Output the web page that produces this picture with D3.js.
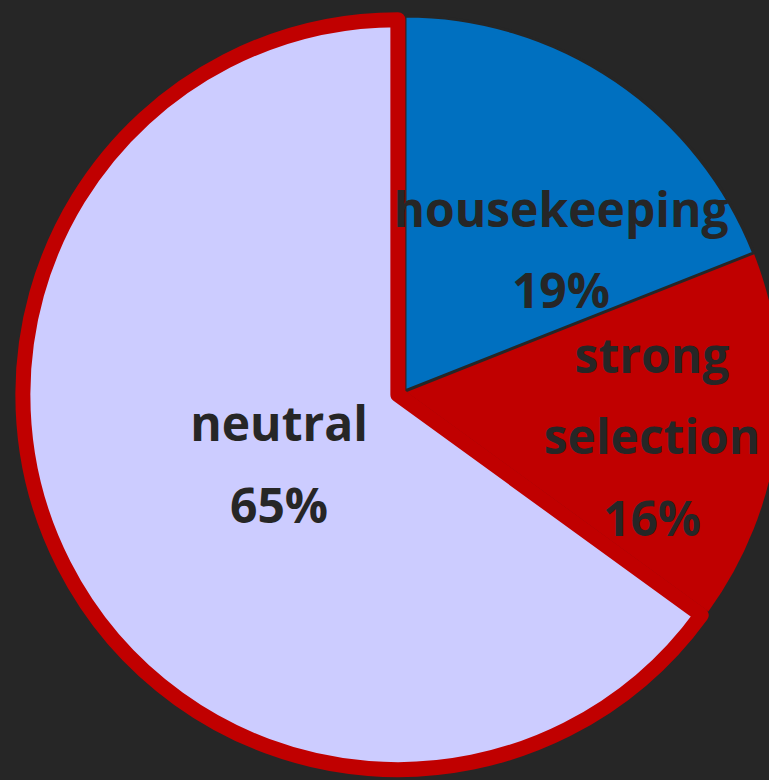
<!DOCTYPE html>
<html>
<head>
<meta charset="utf-8">
<script src="https://cdn.jsdelivr.net/npm/d3@7/dist/d3.min.js"></script>
<style>
  html, body { margin: 0; padding: 0; background: #262626; overflow: hidden; }
  svg { display: block; }
</style>
</head>
<body>
<script>
// ---- data ----
const categories = ["housekeeping", "strong selection", "neutral"];
const values = [19, 16, 65];
const labelLines = [["housekeeping", "19%"], ["strong", "selection", "16%"], ["neutral", "65%"]];
const colors = ["#0070C0", "#C00000", "#CCCCFF"];
const strokeColors = ["#262626", "none", "#C00000"];
const strokeWidths = [3, 0, 15];
const drawOrder = [1, 0, 2];
const explode = [0, 0, 8];
const labelNudge = [[29.5, 45.6], [23.8, 18.3], [74.5, -28]];

const W = 769, H = 780;
const cx = 405, cy = 391, R = 375;

const svg = d3.select("body").append("svg").attr("width", W).attr("height", H);
svg.append("rect").attr("width", W).attr("height", H).attr("fill", "#262626");

const pie = d3.pie().value(d => d).sort(null).startAngle(0).endAngle(2 * Math.PI);
const arcs = pie(values);
const arc = d3.arc().innerRadius(0).outerRadius(R);
const labelArc = d3.arc().innerRadius(R * 0.6).outerRadius(R * 0.6);

const g = svg.append("g").attr("transform", `translate(${cx},${cy})`);

g.selectAll("path.slice")
  .data(drawOrder.map(i => ({ d: arcs[i], i })))
  .join("path")
  .attr("class", "slice")
  .attr("d", o => arc(o.d))
  .attr("fill", o => colors[o.i])
  .attr("stroke", o => strokeColors[o.i])
  .attr("stroke-width", o => strokeWidths[o.i])
  .attr("stroke-linejoin", "round")
  .attr("transform", o => {
    const a = (o.d.startAngle + o.d.endAngle) / 2;
    return `translate(${Math.sin(a) * explode[o.i]},${-Math.cos(a) * explode[o.i]})`;
  });

const lineH = 81.5;
arcs.forEach((d, i) => {
  const [x, y] = labelArc.centroid(d);
  const ax = x + labelNudge[i][0], ay = y + labelNudge[i][1];
  const lines = labelLines[i];
  const y0 = ay + 17 - (lines.length - 1) * lineH / 2;
  const t = g.append("text")
    .attr("text-anchor", "middle")
    .attr("fill", "#262626")
    .attr("font-family", "'Open Sans', 'Noto Sans', sans-serif")
    .attr("font-weight", 700)
    .attr("font-size", 48);
  lines.forEach((s, j) => {
    t.append("tspan").attr("x", ax).attr("y", y0 + j * lineH).text(s);
  });
});
</script>
</body>
</html>
